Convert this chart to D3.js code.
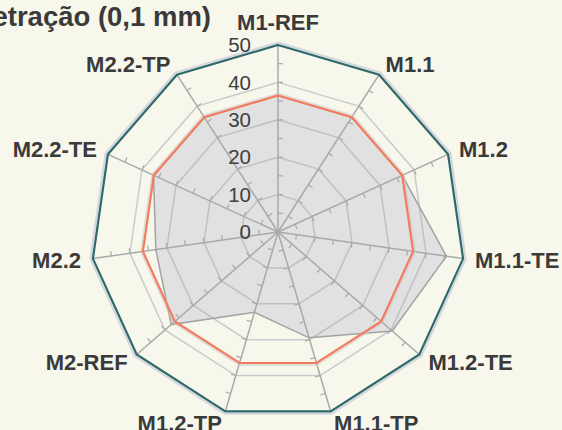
<!DOCTYPE html>
<html>
<head>
<meta charset="utf-8">
<script src="https://cdn.jsdelivr.net/npm/d3@7"></script>
<style>
html,body{margin:0;padding:0;background:#f8f7ec;}
svg{display:block;}
</style>
</head>
<body>
<div id="chart"></div>
<script>
const categories = ["M1-REF","M1.1","M1.2","M1.1-TE","M1.2-TE","M1.1-TP","M1.2-TP","M2-REF","M2.2","M2.2-TE","M2.2-TP"];
const penetration = [36.5, 36.5, 36.5, 45.5, 40.4, 29.5, 22.4, 37.8, 33, 36.6, 36.4];
const lowerLimit = [36.5, 36.5, 36.5, 36.5, 36.5, 36.5, 36.5, 36.5, 36.5, 36.5, 36.5];
const upperLimit = [50, 50, 50, 50, 50, 50, 50, 50, 50, 50, 50];
const tickValues = [0, 10, 20, 30, 40, 50];
const minorTicks = [5, 10, 15, 20, 25, 30, 35, 40, 45];
const title = "Penetração (0,1 mm)";

const W = 562, H = 430;
const cx = 278, cy = 232, R = 187;

const svg = d3.select("#chart").append("svg").attr("width", W).attr("height", H);
svg.append("rect").attr("width", W).attr("height", H).attr("fill", "#f8f7ec");

const n = categories.length;
const r = d3.scaleLinear().domain([0, 50]).range([0, R]);
const angle = d3.scalePoint().domain(d3.range(n + 1)).range([0, 2 * Math.PI]);
const ang = i => angle(i);

const g = svg.append("g").attr("transform", `translate(${cx},${cy})`);

const radial = d3.lineRadial().angle((d, i) => ang(i)).radius(d => r(d)).curve(d3.curveLinearClosed);

// data fill
g.append("path").datum(penetration).attr("d", radial)
  .attr("fill", "#e1e1e1").attr("stroke", "none");

// grid rings
[10, 20, 30, 40].forEach(v => {
  g.append("path").datum(d3.range(n).map(() => v)).attr("d", radial)
    .attr("fill", "none").attr("stroke", "rgba(155,160,175,0.5)").attr("stroke-width", 1.5);
});

// spokes
categories.forEach((c, i) => {
  const a = ang(i);
  g.append("line")
    .attr("x1", 0).attr("y1", 0)
    .attr("x2", r(50) * Math.sin(a)).attr("y2", -r(50) * Math.cos(a))
    .attr("stroke", "#a9a9a9").attr("stroke-width", 1.5);
  minorTicks.forEach(v => {
    const px = r(v) * Math.sin(a), py = -r(v) * Math.cos(a);
    const tx = Math.cos(a), ty = Math.sin(a);
    g.append("line")
      .attr("x1", px).attr("y1", py)
      .attr("x2", px + 5 * tx).attr("y2", py + 5 * ty)
      .attr("stroke", "#a9a9a9").attr("stroke-width", 1.2);
  });
});

// data outline
g.append("path").datum(penetration).attr("d", radial)
  .attr("fill", "none").attr("stroke", "#a3a3a3").attr("stroke-width", 1.5);

// shadows
const radialOff = off => d3.lineRadial().angle((d, i) => ang(i)).radius(d => r(d) + off).curve(d3.curveLinearClosed);
g.append("path").datum(upperLimit).attr("d", radialOff(2.5))
  .attr("fill", "none").attr("stroke", "#d3d6de").attr("stroke-width", 2);
g.append("path").datum(lowerLimit).attr("d", radialOff(2))
  .attr("fill", "none").attr("stroke", "rgba(200,200,205,0.6)").attr("stroke-width", 1.5);

// limit lines
g.append("path").datum(lowerLimit).attr("d", radial)
  .attr("fill", "none").attr("stroke", "#f47b5e").attr("stroke-width", 2.2);
g.append("path").datum(upperLimit).attr("d", radial)
  .attr("fill", "none").attr("stroke", "#2e6a69").attr("stroke-width", 2.2);

// tick labels
g.selectAll(".tl").data(tickValues).enter().append("text")
  .attr("x", -27).attr("y", d => -r(d)).attr("dy", "0.35em")
  .attr("text-anchor", "end")
  .attr("font-family", "Liberation Sans, Arial, sans-serif")
  .attr("font-size", 20.5).attr("fill", "#404040")
  .text(d => d);

// category labels
categories.forEach((c, i) => {
  const a = ang(i);
  const s = Math.sin(a), co = Math.cos(a);
  const rr = r(50) + 12;
  let x = rr * s, y = -rr * co;
  let anchor = s > 0.1 ? "start" : (s < -0.1 ? "end" : "middle");
  if (Math.abs(s) < 0.1 && co > 0) y -= 11;
  g.append("text")
    .attr("x", x).attr("y", y).attr("dy", "0.35em")
    .attr("text-anchor", anchor)
    .attr("font-family", "Liberation Sans, Arial, sans-serif")
    .attr("font-weight", "bold").attr("font-size", 22).attr("fill", "#3a3a3a")
    .text(c);
});

// title
svg.append("text").attr("x", 211).attr("y", 26)
  .attr("text-anchor", "end")
  .attr("font-family", "Liberation Sans, Arial, sans-serif")
  .attr("font-weight", "bold").attr("font-size", 27.5).attr("fill", "#3a3a3a")
  .text(title);
</script>
</body>
</html>
